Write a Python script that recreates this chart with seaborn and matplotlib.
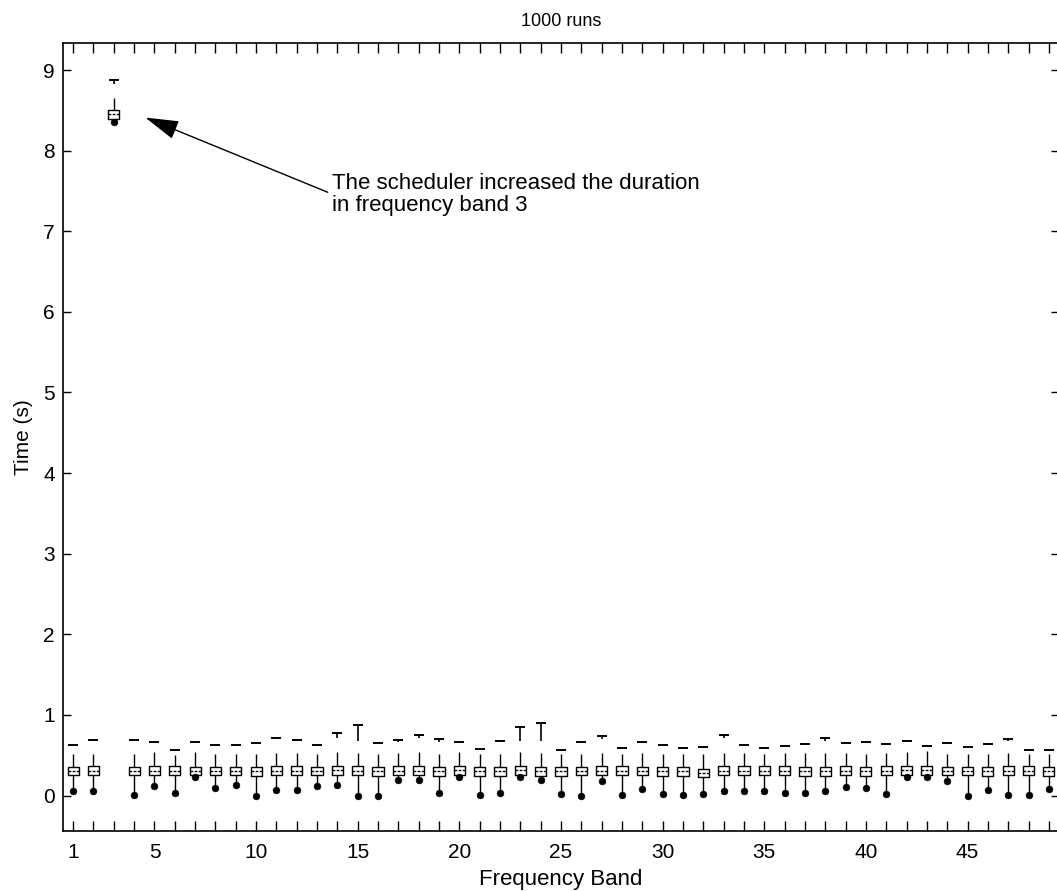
import numpy as np
import pandas as pd
import matplotlib
matplotlib.use("Agg")
import matplotlib.pyplot as plt
import seaborn as sns

# Frequency bands
bands = list(range(1, 50))

# Box statistics per band (seconds)
q1 = [0.25, 0.25, 8.39, 0.25, 0.25, 0.25, 0.25, 0.25, 0.25, 0.24,
      0.25, 0.25, 0.25, 0.26, 0.25, 0.24, 0.25, 0.25, 0.24, 0.26,
      0.24, 0.24, 0.26, 0.24, 0.24, 0.25, 0.25, 0.26, 0.25, 0.24,
      0.24, 0.23, 0.25, 0.25, 0.25, 0.25, 0.24, 0.24, 0.25, 0.24,
      0.25, 0.26, 0.26, 0.25, 0.25, 0.24, 0.25, 0.25, 0.24]
median = [0.30, 0.31, 8.45, 0.30, 0.31, 0.31, 0.30, 0.30, 0.30, 0.30,
          0.31, 0.31, 0.30, 0.32, 0.31, 0.30, 0.31, 0.31, 0.30, 0.32,
          0.30, 0.30, 0.32, 0.30, 0.30, 0.30, 0.31, 0.31, 0.30, 0.30,
          0.30, 0.28, 0.31, 0.31, 0.31, 0.31, 0.30, 0.30, 0.31, 0.30,
          0.31, 0.32, 0.32, 0.30, 0.30, 0.30, 0.31, 0.30, 0.30]
q3 = [0.35, 0.36, 8.51, 0.35, 0.36, 0.36, 0.35, 0.35, 0.35, 0.35,
      0.36, 0.36, 0.35, 0.37, 0.36, 0.35, 0.36, 0.36, 0.35, 0.37,
      0.35, 0.35, 0.37, 0.35, 0.35, 0.35, 0.36, 0.36, 0.35, 0.35,
      0.35, 0.33, 0.36, 0.36, 0.36, 0.36, 0.35, 0.35, 0.36, 0.35,
      0.36, 0.37, 0.37, 0.35, 0.35, 0.35, 0.36, 0.36, 0.35]
whisker_hi = [0.52, 0.52, 8.65, 0.52, 0.54, 0.50, 0.54, 0.52, 0.52, 0.51,
              0.53, 0.53, 0.52, 0.54, 0.53, 0.52, 0.53, 0.54, 0.52, 0.54,
              0.51, 0.52, 0.54, 0.53, 0.51, 0.52, 0.53, 0.52, 0.53, 0.52,
              0.52, 0.51, 0.53, 0.53, 0.52, 0.53, 0.53, 0.53, 0.53, 0.52,
              0.53, 0.54, 0.55, 0.52, 0.51, 0.52, 0.53, 0.52, 0.51]
whisker_lo = [0.06, 0.05, 8.35, 0.01, 0.12, 0.03, 0.23, 0.09, 0.13, 0.00,
              0.07, 0.07, 0.12, 0.13, 0.00, 0.00, 0.19, 0.19, 0.03, 0.23,
              0.01, 0.03, 0.23, 0.19, 0.02, 0.00, 0.18, 0.01, 0.08, 0.02,
              0.01, 0.02, 0.06, 0.06, 0.06, 0.03, 0.03, 0.05, 0.10, 0.09,
              0.02, 0.23, 0.23, 0.18, 0.00, 0.07, 0.01, 0.01, 0.08]

# Upper outliers: highest value and lowest value of the cluster
outlier_top = [0.63, 0.69, 8.87, 0.69, 0.67, 0.57, 0.67, 0.63, 0.63, 0.65,
               0.71, 0.69, 0.63, 0.78, 0.88, 0.65, 0.69, 0.75, 0.70, 0.67,
               0.58, 0.68, 0.85, 0.90, 0.56, 0.67, 0.74, 0.59, 0.66, 0.63,
               0.59, 0.60, 0.75, 0.63, 0.59, 0.62, 0.64, 0.71, 0.65, 0.66,
               0.64, 0.68, 0.62, 0.65, 0.60, 0.64, 0.70, 0.56, 0.56]
outlier_low = [0.63, 0.69, 8.83, 0.69, 0.67, 0.57, 0.67, 0.63, 0.63, 0.65,
               0.71, 0.69, 0.63, 0.71, 0.68, 0.65, 0.66, 0.71, 0.66, 0.67,
               0.58, 0.68, 0.68, 0.68, 0.56, 0.67, 0.70, 0.59, 0.66, 0.63,
               0.59, 0.60, 0.71, 0.63, 0.59, 0.62, 0.64, 0.68, 0.65, 0.66,
               0.64, 0.68, 0.62, 0.65, 0.60, 0.64, 0.68, 0.56, 0.56]

xtick_labels = {1: "1", 5: "5", 10: "10", 15: "15", 20: "20",
                25: "25", 30: "30", 35: "35", 40: "40", 45: "45"}

# Five values per band reproduce the box statistics exactly
rows = []
for b, lo, a, m, c, hi in zip(bands, whisker_lo, q1, median, q3, whisker_hi):
    for v in (lo, a, m, c, hi):
        rows.append({"band": b, "time": v})
df = pd.DataFrame(rows)

sns.set_style("ticks")
plt.rcParams["font.family"] = ["Liberation Sans", "DejaVu Sans"]
plt.rcParams["font.size"] = 14
for key in ("text.color", "axes.labelcolor", "xtick.color", "ytick.color",
            "axes.edgecolor"):
    plt.rcParams[key] = "black"

fig = plt.figure(figsize=(10.57, 8.91), dpi=100)
ax = fig.add_axes([63 / 1057, 1 - 830.5 / 891, (1059 - 63) / 1057, (830.5 - 43) / 891])

sns.boxplot(data=df, x="band", y="time", native_scale=True, whis=(0, 100),
            width=0.55, fill=False, color="black", linewidth=1.0,
            showcaps=False, showfliers=False,
            medianprops=dict(linestyle=(0, (2, 1)), linewidth=1.0),
            ax=ax)

# Upper outlier clusters
ax.vlines(bands, outlier_low, outlier_top, color="black", linewidth=1.2)
sns.scatterplot(x=bands, y=outlier_top, marker="_", s=45, color="black",
                linewidth=1.4, ax=ax, zorder=4)
# Lower extreme markers
sns.scatterplot(x=bands, y=whisker_lo, marker="o", s=24, color="black",
                edgecolor="black", ax=ax, zorder=4)

ax.set_xlim(0.5, 49.5)
ax.set_ylim(-0.434, 9.335)
ax.set_xticks(bands)
ax.set_xticklabels([xtick_labels.get(b, "") for b in bands])
ax.set_yticks(range(0, 10))
ax.tick_params(axis="both", direction="in", top=True, right=True,
               labelsize=15, width=1.0, color="black")
ax.tick_params(axis="x", length=7.5, pad=9)
ax.tick_params(axis="y", length=6, pad=6)
for s in ax.spines.values():
    s.set_linewidth(1.2)
    s.set_color("black")

ax.set_xlabel("Frequency Band", fontsize=16, labelpad=5)
ax.set_ylabel("Time (s)", fontsize=15, labelpad=7)
ax.set_title("1000 runs", fontsize=13, pad=12)

ax.annotate("The scheduler increased the duration\nin frequency band 3",
            xy=(4.55, 8.41), xytext=(13.75, 7.46),
            fontsize=16, ha="left", va="center", linespacing=1.05,
            arrowprops=dict(arrowstyle="-|>,head_length=1.4,head_width=0.4",
                            color="black", lw=1.0, shrinkA=1, shrinkB=0,
                            relpos=(0.0, 0.5), mutation_scale=15))

fig.savefig("out.png", dpi=100)
